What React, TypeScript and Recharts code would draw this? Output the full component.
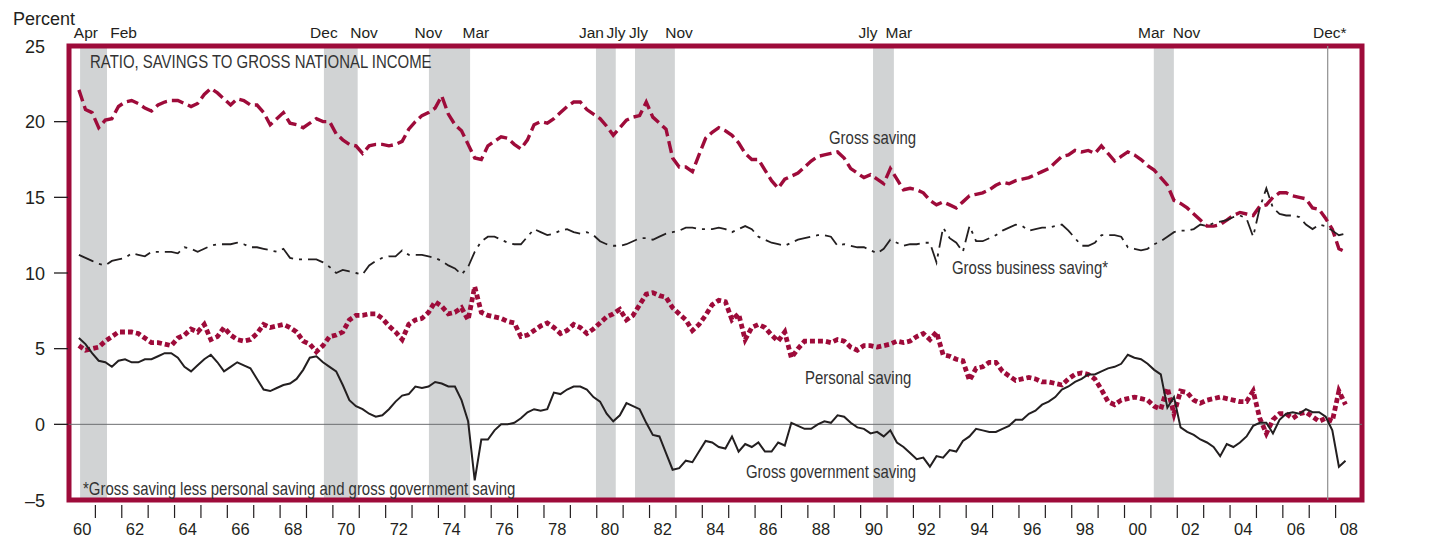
import { LineChart, Line, XAxis, YAxis, ReferenceArea, ReferenceLine } from 'recharts'

// quarterly ratios, percent of gross national income; first point is 1960 Q2
const firstQuarter = 1960.375

const grossSaving = [
  22.1, 20.8, 20.6, 19.6, 20.1, 20.2, 21.0, 21.3, 21.4, 21.2, 20.9, 20.7,
  21.1, 21.3, 21.4, 21.4, 21.2, 21.0, 21.2, 21.8, 22.2, 21.9, 21.5, 21.1,
  21.5, 21.4, 21.1, 21.1, 20.6, 19.8, 20.2, 20.6, 19.9, 19.8, 19.6, 19.9,
  20.2, 20.0, 20.0, 19.2, 18.8, 18.5, 18.4, 17.9, 18.4, 18.5, 18.5, 18.4,
  18.5, 18.7, 19.5, 20.0, 20.4, 20.6, 20.9, 21.7, 20.5, 19.8, 19.4, 18.5,
  17.6, 17.5, 18.4, 18.7, 19.0, 18.9, 18.5, 18.2, 18.8, 19.8, 20.0, 19.9,
  20.2, 20.6, 21.0, 21.3, 21.3, 20.8, 20.5, 20.2, 19.7, 19.1, 19.6, 20.1,
  20.3, 20.4, 21.3, 20.3, 19.9, 19.5, 17.6, 17.0, 17.0, 16.7, 17.8, 18.9,
  19.3, 19.6, 19.4, 19.1, 18.6, 17.9, 17.5, 17.5, 16.8, 16.1, 15.6, 16.2,
  16.4, 16.6, 17.0, 17.4, 17.7, 17.8, 17.9, 18.0, 17.6, 16.9, 16.6, 16.3,
  16.5, 16.2, 15.9, 16.9, 16.2, 15.5, 15.6, 15.5, 15.3, 14.8, 14.5, 14.7,
  14.5, 14.3, 14.7, 15.1, 15.2, 15.3, 15.5, 15.8, 16.0, 15.9, 16.1, 16.2,
  16.3, 16.5, 16.7, 16.9, 17.3, 17.7, 17.8, 18.1, 18.0, 18.1, 17.9, 18.4,
  17.9, 17.4, 17.7, 18.0, 17.8, 17.5, 17.1, 16.8, 16.3, 15.8, 14.8, 14.6,
  14.3, 13.9, 13.5, 13.1, 13.1, 13.2, 13.5, 13.8, 14.0, 13.9, 13.8, 14.4,
  14.5, 15.0, 15.3, 15.3, 15.1, 15.0, 14.9, 14.3, 14.2, 13.6, 12.9, 11.6,
  11.4,
]

const businessSaving = [
  11.2, 11.0, 10.8, 10.6, 10.5, 10.8, 10.9, 11.0, 11.3, 11.2, 11.1, 11.4,
  11.4, 11.4, 11.4, 11.3, 11.7, 11.6, 11.4, 11.6, 11.8, 11.9, 11.9, 11.9,
  12.0, 11.9, 11.7, 11.7, 11.6, 11.5, 11.4, 11.6, 11.0, 10.9, 10.9, 10.9,
  10.9, 10.7, 10.4, 10.0, 10.2, 10.1, 10.0, 9.9, 10.5, 10.8, 11.0, 11.1,
  11.1, 11.5, 11.2, 11.2, 11.2, 11.1, 11.0, 10.8, 10.5, 10.3, 9.9, 10.4,
  11.4, 12.1, 12.4, 12.4, 12.2, 12.0, 11.9, 11.9, 12.4, 12.9, 12.7, 12.5,
  12.6, 12.8, 12.9, 12.7, 12.6, 12.7, 12.5, 12.1, 11.9, 11.8, 11.8, 11.9,
  12.1, 12.3, 12.3, 12.2, 12.4, 12.6, 12.7, 12.8, 13.0, 13.0, 12.9, 12.9,
  12.9, 13.0, 12.9, 12.7, 12.9, 13.1, 12.9, 12.4, 12.2, 12.0, 11.9, 11.8,
  12.0, 12.2, 12.3, 12.4, 12.5, 12.5, 12.4, 11.8, 11.9, 11.8, 11.7, 11.7,
  11.5, 11.3, 11.6, 12.2, 12.0, 11.8, 11.9, 11.9, 12.0, 12.0, 10.7, 13.0,
  12.3, 12.0, 11.4, 13.1, 12.1, 12.1, 12.3, 12.5, 12.8, 13.0, 13.2, 13.1,
  12.8, 12.9, 13.0, 13.0, 13.1, 13.2, 12.8, 12.3, 11.8, 11.8, 12.0, 12.5,
  12.5, 12.5, 12.4, 11.7, 11.6, 11.5, 11.6, 11.9, 12.1, 12.4, 12.7, 12.8,
  12.8, 12.9, 13.2, 13.1, 13.3, 13.4, 13.5, 13.7, 13.8, 13.6, 12.4, 14.3,
  15.6, 14.3, 13.9, 13.8, 13.8, 13.7, 13.2, 12.9, 13.2, 13.1, 12.8, 12.5,
  12.6,
]

const personalSaving = [
  5.2, 4.9, 5.0, 5.1, 5.5, 5.8, 6.1, 6.1, 6.1, 6.0, 5.7, 5.4,
  5.4, 5.3, 5.2, 5.7, 5.9, 6.3, 6.1, 6.6, 5.6, 5.8, 6.4, 5.9,
  5.6, 5.5, 5.6, 6.0, 6.6, 6.4, 6.5, 6.6, 6.4, 6.1, 5.5, 5.3,
  4.8, 5.2, 5.8, 5.9, 6.1, 6.9, 7.2, 7.2, 7.3, 7.3, 7.0, 6.5,
  6.1, 5.6, 6.6, 6.9, 7.0, 7.4, 8.1, 7.8, 7.3, 7.4, 7.7, 6.9,
  9.1, 7.4, 7.2, 7.1, 7.0, 6.8, 6.7, 5.8, 5.9, 6.2, 6.5, 6.7,
  6.4, 6.0, 6.2, 6.6, 6.4, 6.0, 6.3, 6.7, 7.1, 7.3, 7.6, 6.9,
  7.2, 7.9, 8.6, 8.7, 8.5, 8.4, 7.7, 7.3, 6.9, 6.2, 6.6, 7.2,
  7.9, 8.2, 8.1, 6.9, 7.3, 5.6, 6.4, 6.6, 6.4, 5.9, 5.5, 6.1,
  4.4, 5.0, 5.5, 5.5, 5.5, 5.5, 5.4, 5.6, 5.5, 5.1, 4.9, 5.2,
  5.2, 5.1, 5.2, 5.3, 5.5, 5.4, 5.5, 5.8, 6.0, 5.6, 6.1, 4.6,
  4.5, 4.3, 4.2, 2.9, 3.7, 3.8, 4.1, 4.1, 3.5, 3.2, 2.9, 3.0,
  3.1, 3.0, 2.8, 2.8, 2.7, 2.6, 3.0, 3.3, 3.4, 3.3, 3.0, 2.3,
  1.5, 1.3, 1.6, 1.7, 1.8, 1.7, 1.6, 1.2, 1.0, 2.4, 0.7, 2.2,
  2.1, 1.6, 1.4, 1.6, 1.7, 1.8, 1.7, 1.6, 1.5, 1.5, 2.2, 0.4,
  -0.6, 0.3, 0.7, 0.7, 0.4, 0.7, 0.8, 0.5, 0.2, 0.4, 0.2, 2.2,
  1.3,
]

const governmentSaving = [
  5.7, 5.3, 4.7, 4.2, 4.1, 3.8, 4.2, 4.3, 4.1, 4.1, 4.3, 4.3,
  4.5, 4.7, 4.7, 4.4, 3.8, 3.5, 3.9, 4.3, 4.6, 4.1, 3.5, 3.8,
  4.1, 3.9, 3.7, 3.0, 2.3, 2.2, 2.4, 2.6, 2.7, 3.0, 3.6, 4.4,
  4.5, 4.1, 3.8, 3.5, 2.6, 1.6, 1.2, 1.0, 0.7, 0.5, 0.6, 1.0,
  1.5, 1.9, 2.0, 2.5, 2.4, 2.5, 2.8, 2.7, 2.5, 2.5, 1.6, 0.2,
  -3.7, -1.0, -1.0, -0.4, 0.0, 0.0, 0.1, 0.4, 0.8, 1.0, 0.9, 1.0,
  2.1, 2.0, 2.3, 2.5, 2.5, 2.3, 1.8, 1.5, 0.7, 0.2, 0.6, 1.4,
  1.2, 1.0, 0.1, -0.7, -0.8, -1.9, -3.0, -2.9, -2.4, -2.5, -1.8, -1.1,
  -1.2, -1.5, -1.6, -0.8, -1.8, -1.3, -1.5, -1.2, -1.8, -1.8, -1.2, -1.4,
  0.1, -0.1, -0.3, -0.3, 0.0, 0.2, 0.1, 0.6, 0.5, 0.1, -0.2, -0.3,
  -0.6, -0.5, -0.8, -0.4, -1.2, -1.5, -1.9, -2.3, -2.2, -2.8, -2.1, -2.2,
  -1.7, -1.8, -1.1, -0.8, -0.3, -0.4, -0.5, -0.5, -0.3, -0.1, 0.3, 0.3,
  0.7, 0.9, 1.3, 1.5, 1.8, 2.3, 2.5, 2.8, 3.0, 3.3, 3.3, 3.5,
  3.7, 3.8, 4.0, 4.6, 4.4, 4.3, 4.0, 3.6, 3.3, 1.1, 1.8, -0.2,
  -0.5, -0.7, -1.0, -1.2, -1.5, -2.1, -1.3, -1.5, -1.2, -0.8, -0.1, 0.1,
  0.1, -0.6, 0.3, 0.7, 0.8, 0.7, 1.0, 0.8, 0.8, 0.5, -0.4, -2.8,
  -2.4,
]

// shaded recessions (decimal years)
const recessions = [
  [1960.42, 1961.44],
  [1969.66, 1970.94],
  [1973.64, 1975.2],
  [1979.97, 1980.72],
  [1981.45, 1982.96],
  [1990.47, 1991.26],
  [2001.11, 2001.87],
]
const latestPeak = 2007.7

// month names written above the frame
const monthNames = ['Apr', 'Feb', 'Dec', 'Nov', 'Nov', 'Mar', 'Jan', 'Jly', 'Jly', 'Nov', 'Jly', 'Mar', 'Mar', 'Nov', 'Dec*']
const monthAt = [1960.64, 1962.07, 1969.66, 1971.18, 1973.62, 1975.42, 1979.8, 1980.73, 1981.58, 1983.12, 1990.28, 1991.45, 2001.02, 2002.35, 2007.78]

const yearLabels = ['60', '62', '64', '66', '68', '70', '72', '74', '76', '78', '80', '82', '84',
  '86', '88', '90', '92', '94', '96', '98', '00', '02', '04', '06', '08']
const yTicks = [-5, 0, 5, 10, 15, 20, 25]

const MAROON = '#9E0B3A'
const INK = '#231f20'
const FONT = '"Liberation Sans", Arial, sans-serif'

const data = grossSaving.map((g, i) => ({
  t: firstQuarter + i / 4,
  gross: g,
  business: businessSaving[i],
  personal: personalSaving[i],
  government: governmentSaving[i],
}))

const labelYears = yearLabels.map((_, i) => 1960.5 + 2 * i)
const yearTicks: number[] = []
for (let y = 1961; y <= 2008; y++) yearTicks.push(y)
const bottomTicks = [...yearTicks, ...labelYears].sort((a, b) => a - b)

function BottomTick({ x, y, payload }: any) {
  const v = payload.value
  if (Number.isInteger(v)) {
    return <line x1={x} x2={x} y1={y + 5} y2={y + 18} stroke={INK} strokeWidth={1.2} />
  }
  const idx = labelYears.indexOf(v)
  return (
    <text x={x} y={y + 35} textAnchor="middle" fontSize={16.5} fontFamily={FONT} fill={INK}>
      {yearLabels[idx]}
    </text>
  )
}

function TopTick({ x, y, payload }: any) {
  const idx = monthAt.indexOf(payload.value)
  return (
    <text x={x} y={y - 8} textAnchor="middle" fontSize={15.5} fontFamily={FONT} fill={INK}>
      {monthNames[idx]}
    </text>
  )
}

function LeftTick({ x, y, payload }: any) {
  const v = payload.value
  return (
    <g>
      {v > -5 && v < 25 && <line x1={x - 15} x2={x - 1} y1={y} y2={y} stroke={INK} strokeWidth={1.3} />}
      <text x={x - 24} y={y + 6.5} textAnchor="end" fontSize={18} fontFamily={FONT} fill={INK}>
        {v < 0 ? `\u2013${Math.abs(v)}` : v}
      </text>
    </g>
  )
}

function RightTick({ x, y, payload }: any) {
  const v = payload.value
  return (
    <g>
      {v > -5 && v < 25 && <line x1={x + 5} x2={x + 20} y1={y} y2={y} stroke={INK} strokeWidth={1.3} />}
      <text x={x + 26} y={y + 6.5} textAnchor="start" fontSize={18} fontFamily={FONT} fill={INK}>
        {v < 0 ? `\u2013${Math.abs(v)}` : v}
      </text>
    </g>
  )
}

// condensed label: regular face squeezed horizontally
function Note({ x, y, children }: { x: number; y: number; children: string }) {
  return (
    <text transform={`translate(${x},${y}) scale(0.83,1)`} fontSize={18} fontFamily={FONT} fill="#333">
      {children}
    </text>
  )
}

export default function App() {
  return (
    <div style={{ position: 'absolute', left: 0, top: 0, width: 1431, height: 540, background: '#fff', fontFamily: FONT }}>
      <LineChart width={1431} height={540} data={data} margin={{ top: 0, right: 0, bottom: 0, left: 0 }}>
        <XAxis
          xAxisId="main"
          dataKey="t"
          type="number"
          domain={[1960, 2009]}
          allowDataOverflow
          ticks={bottomTicks}
          interval={0}
          height={40}
          axisLine={false}
          tickLine={false}
          tickSize={0}
          tickMargin={0}
          tick={BottomTick}
        />
        <XAxis
          xAxisId="top"
          dataKey="t"
          orientation="top"
          type="number"
          domain={[1960, 2009]}
          allowDataOverflow
          ticks={monthAt}
          interval={0}
          height={46}
          axisLine={false}
          tickLine={false}
          tickSize={0}
          tickMargin={0}
          tick={TopTick}
        />
        <YAxis
          yAxisId="left"
          type="number"
          domain={[-5, 25]}
          ticks={yTicks}
          interval={0}
          width={69}
          axisLine={false}
          tickLine={false}
          tickSize={0}
          tickMargin={0}
          tick={LeftTick}
        />
        <YAxis
          yAxisId="right"
          orientation="right"
          type="number"
          domain={[-5, 25]}
          ticks={yTicks}
          interval={0}
          width={69}
          axisLine={false}
          tickLine={false}
          tickSize={0}
          tickMargin={0}
          tick={RightTick}
        />
        {recessions.map(([a, b], i) => (
          <ReferenceArea
            key={`rec-${i}`}
            xAxisId="main"
            yAxisId="left"
            x1={a}
            x2={b}
            y1={-5}
            y2={25}
            fill="#d1d3d4"
            fillOpacity={1}
            stroke="none"
          />
        ))}
        <ReferenceLine xAxisId="main" yAxisId="left" y={0} stroke="#6d6e70" strokeWidth={1} />
        <ReferenceLine xAxisId="main" yAxisId="left" x={latestPeak} stroke="#8f8f8f" strokeWidth={1.2} />
        <Line
          xAxisId="main"
          yAxisId="left"
          dataKey="gross"
          stroke={MAROON}
          strokeWidth={3.4}
          strokeDasharray="12 5"
          dot={false}
          isAnimationActive={false}
        />
        <Line
          xAxisId="main"
          yAxisId="left"
          dataKey="business"
          stroke={INK}
          strokeWidth={1.8}
          strokeDasharray="16 6 3 6"
          dot={false}
          isAnimationActive={false}
        />
        <Line
          xAxisId="main"
          yAxisId="left"
          dataKey="personal"
          stroke={MAROON}
          strokeWidth={4.8}
          strokeDasharray="5 3"
          dot={false}
          isAnimationActive={false}
        />
        <Line
          xAxisId="main"
          yAxisId="left"
          dataKey="government"
          stroke={INK}
          strokeWidth={2}
          dot={false}
          isAnimationActive={false}
        />
        <ReferenceArea
          xAxisId="main"
          yAxisId="left"
          x1={1960}
          x2={2009}
          y1={-5}
          y2={25}
          fill="none"
          stroke={MAROON}
          strokeWidth={5}
        />
      </LineChart>
      <svg
        width={1431}
        height={540}
        style={{ position: 'absolute', left: 0, top: 0, pointerEvents: 'none' }}
      >
        <text x={13} y={25} fontSize={18} fontFamily={FONT} fill={INK}>Percent</text>
        <Note x={90} y={68}>RATIO, SAVINGS TO GROSS NATIONAL INCOME</Note>
        <Note x={829} y={143.5}>Gross saving</Note>
        <Note x={952} y={273.5}>Gross business saving*</Note>
        <Note x={805} y={384}>Personal saving</Note>
        <Note x={746} y={478}>Gross government saving</Note>
        <Note x={83} y={495}>*Gross saving less personal saving and gross government saving</Note>
      </svg>
    </div>
  )
}
